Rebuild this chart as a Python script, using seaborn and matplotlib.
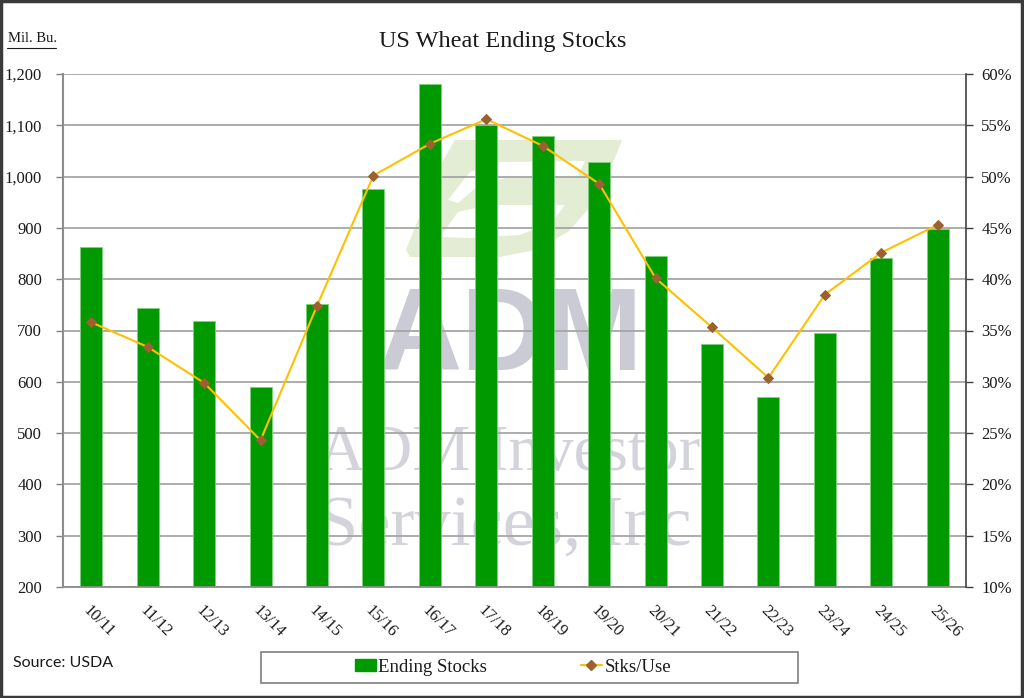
import numpy as np
import pandas as pd
import matplotlib
matplotlib.use("Agg")
import matplotlib.pyplot as plt
import seaborn as sns
from matplotlib.patches import Rectangle, Patch, Polygon
from matplotlib.lines import Line2D
from matplotlib.ticker import FixedLocator, FuncFormatter

# ---------------- data ----------------
years = ["10/11", "11/12", "12/13", "13/14", "14/15", "15/16", "16/17", "17/18",
         "18/19", "19/20", "20/21", "21/22", "22/23", "23/24", "24/25", "25/26"]
ending_stocks = [862, 743, 718, 590, 752, 976, 1181, 1100,
                 1080, 1028, 845, 674, 570, 696, 841, 898]
stks_use = [35.8, 33.4, 29.9, 24.3, 37.4, 50.1, 53.2, 55.6,
            53.0, 49.3, 40.1, 35.3, 30.4, 38.5, 42.6, 45.3]
left_ticks = [200, 300, 400, 500, 600, 700, 800, 900, 1000, 1100, 1200]
right_ticks = [10, 15, 20, 25, 30, 35, 40, 45, 50, 55, 60]

df = pd.DataFrame({"year": years, "stocks": ending_stocks, "ratio": stks_use})

sns.set_style("white")
plt.rcParams["font.family"] = ["Liberation Serif", "DejaVu Serif"]

BAR = "#009900"
LINE = "#FFC000"
MARK = "#9B6230"
GRID = "#A6A6A6"
TXT = "#1a1a1a"

W, H = 1024, 698
def fx(px):
    return px / W
def fy(py):
    return 1 - py / H

fig = plt.figure(figsize=(10.24, 6.98), dpi=100)
ax = fig.add_axes([fx(63), fy(587), (966 - 63) / W, (587 - 74) / H])

# watermark (behind grid)
leaf = "#E2EDD3"
outer = [(455, 140), (622, 140), (614, 160), (592, 205), (568, 232), (535, 250), (500, 257),
         (410, 257), (406, 250), (424, 205), (440, 166)]
ax.add_patch(Polygon([(fx(x), fy(y)) for x, y in outer], closed=True, transform=fig.transFigure,
                     facecolor=leaf, edgecolor="none", zorder=0.1))
cut1 = [(448, 200), (470, 172), (500, 162), (585, 161), (578, 176), (505, 178), (478, 186), (458, 203)]
cut2 = [(440, 237), (458, 212), (490, 205), (565, 205), (552, 222), (520, 235), (470, 238)]
for c in (cut1, cut2):
    ax.add_patch(Polygon([(fx(x), fy(y)) for x, y in c], closed=True, transform=fig.transFigure,
                         facecolor="white", edgecolor="none", zorder=0.12))
wm = "#CBCBD5"
ax.text(fx(510), fy(370), "ADM", transform=fig.transFigure, ha="center", va="baseline",
        fontsize=84, fontweight="bold", family="Liberation Sans", color=wm, zorder=0.2)
ax.text(fx(318), fy(470), "ADM Investor", transform=fig.transFigure, ha="left", va="baseline",
        fontsize=47, family="Liberation Serif", color="#D3D3DC", zorder=0.2)
ax.text(fx(318), fy(545), "Services, Inc", transform=fig.transFigure, ha="left", va="baseline",
        fontsize=52, family="Liberation Serif", color="#D3D3DC", zorder=0.2)

sns.barplot(data=df, x="year", y="stocks", ax=ax, color=BAR, width=0.39,
            edgecolor="#7FD07F", linewidth=0.6, saturation=1, zorder=2)

ax.set_xlim(-0.5, len(years) - 0.5)
ax.set_ylim(200, 1200)
ax.yaxis.set_major_locator(FixedLocator(left_ticks))
ax.yaxis.set_major_formatter(FuncFormatter(lambda v, p: f"{int(v):,}"))
ax.set_axisbelow(True)
ax.grid(axis="y", color=GRID, linewidth=1.3)
ax.grid(axis="x", visible=False)
ax.set_xlabel("")
ax.set_ylabel("")

ax.set_xticks(range(len(years)))
ax.set_xticklabels(years, rotation=-45, ha="left", va="top", rotation_mode="anchor",
                   fontsize=12, color=TXT)
ax.tick_params(axis="x", which="major", length=0, pad=11)
ax.xaxis.set_minor_locator(FixedLocator(np.arange(-0.5, len(years), 1.0)))
ax.tick_params(axis="x", which="minor", length=8, direction="inout", color="#707070", width=1)
ax.tick_params(axis="y", which="major", length=5, direction="out", color="#808080", width=1,
               labelsize=12, labelcolor=TXT, pad=10, left=True)

for s in ["top", "right"]:
    ax.spines[s].set_visible(False)
ax.spines["left"].set_color("#8C8C8C")
ax.spines["left"].set_linewidth(1.5)
ax.spines["bottom"].set_color("#8C8C8C")
ax.spines["bottom"].set_linewidth(1.3)

# secondary axis: Stks/Use
ax2 = ax.twinx()
sns.lineplot(x=np.arange(len(years)), y=stks_use, ax=ax2, color=LINE, linewidth=1.5,
             marker="D", markersize=5.5, markerfacecolor=MARK, markeredgecolor=MARK,
             sort=False, zorder=5)
ax2.set_ylim(10, 60)
ax2.yaxis.set_major_locator(FixedLocator(right_ticks))
ax2.yaxis.set_major_formatter(FuncFormatter(lambda v, p: f"{int(round(v))}%"))
ax2.tick_params(axis="y", length=5, direction="out", color="#404040", width=1,
                labelsize=12, labelcolor=TXT, pad=6, right=True)
ax2.set_xlim(-0.5, len(years) - 0.5)
for s in ["top", "left", "bottom"]:
    ax2.spines[s].set_visible(False)
ax2.spines["right"].set_color("#404040")
ax2.spines["right"].set_linewidth(1.2)
ax2.set_ylabel("")
ax2.grid(False)

# titles and notes
fig.text(fx(503), fy(42), "US Wheat Ending Stocks", ha="center", va="center",
         fontsize=17.5, color=TXT)
fig.text(fx(8), fy(39), "Mil. Bu.", ha="left", va="center", fontsize=10.5, color=TXT)
fig.add_artist(Line2D([fx(7), fx(56)], [fy(47.5), fy(47.5)],
                      transform=fig.transFigure, color=TXT, linewidth=0.8))
fig.text(fx(13), fy(663), "Source: USDA", ha="left", va="center", fontsize=11.5,
         family="Lato", color=TXT)

# legend
fig.add_artist(Rectangle((fx(261), fy(683)), (798 - 261) / W, 31 / H,
                         transform=fig.transFigure, fill=False, edgecolor="#7F7F7F", linewidth=1.2))
handles = [Patch(facecolor=BAR, edgecolor=BAR),
           Line2D([0], [0], color=LINE, linewidth=1.5, marker="D", markersize=5,
                  markerfacecolor=MARK, markeredgecolor=MARK)]
fig.legend(handles, ["Ending Stocks", "Stks/Use"], loc="center", bbox_to_anchor=(fx(513), fy(667)),
           ncol=2, frameon=False, fontsize=13.5, handlelength=1.1, handleheight=0.55,
           handletextpad=0.15, columnspacing=5.0, labelcolor=TXT)

# outer frame
fig.add_artist(Rectangle((0.001, 0.002), 0.997, 0.996, transform=fig.transFigure, fill=False,
                         edgecolor="#3A3A3A", linewidth=2.5))

fig.savefig("out.png", dpi=100, facecolor="white")
